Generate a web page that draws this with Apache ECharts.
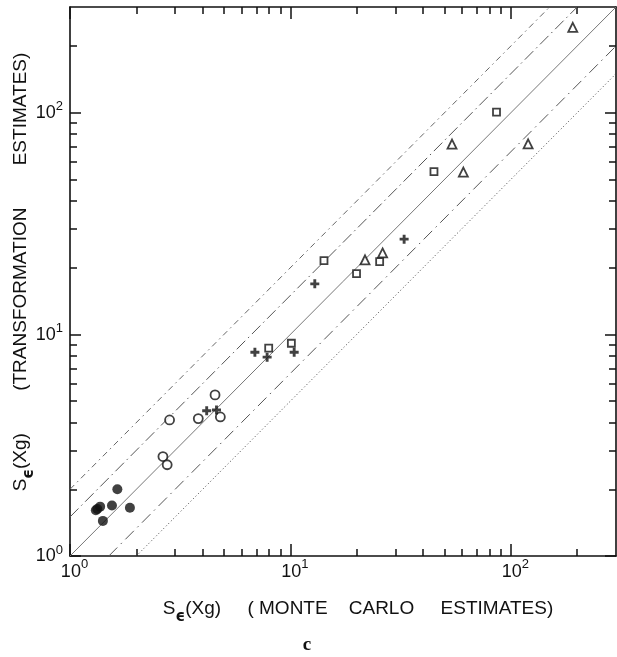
<!DOCTYPE html>
<html>
<head>
<meta charset="utf-8">
<script src="https://cdn.jsdelivr.net/npm/echarts@6/dist/echarts.min.js"></script>
<style>
html,body{margin:0;padding:0;background:#fff;}
#chart{width:617px;height:657px;}
</style>
</head>
<body>
<div id="chart"></div>
<script>
// Axis range and tick values
var axisMin = 1, axisMax = 300;
var majorTicks = [1, 10, 100];
var minorTicks = [2, 3, 4, 5, 6, 7, 8, 9, 20, 30, 40, 50, 60, 70, 80, 90, 200];

// Reference lines y = ratio * x
var lineRatios = [2, 1.5, 1, 1 / 1.5, 0.5];

// Data series [Monte Carlo estimate, transformation estimate]
var filledCircles = [[1.64, 2.0], [1.37, 1.67], [1.33, 1.63], [1.31, 1.61], [1.55, 1.69], [1.87, 1.65], [1.41, 1.44]];
var openCircles = [[2.64, 2.81], [2.76, 2.58], [2.83, 4.11], [3.82, 4.17], [4.55, 5.33], [4.81, 4.24]];
var plusPoints = [[4.17, 4.52], [4.62, 4.56], [6.9, 8.31], [7.84, 7.89], [10.4, 8.31], [12.9, 16.9], [32.8, 26.9]];
var squarePoints = [[7.97, 8.66], [10.1, 9.12], [14.2, 21.5], [19.95, 18.8], [25.4, 21.3], [44.8, 54.2], [86.1, 100.7]];
var trianglePoints = [[21.8, 21.7], [26.2, 23.3], [54.1, 72.2], [60.9, 54.0], [119.8, 72.4], [191, 243]];

var lineStyles = [
  {color: '#666', width: 1, type: [6, 4, 1.5, 4]},
  {color: '#555', width: 1, type: [12, 4, 1.5, 4]},
  {color: '#777', width: 1, type: 'solid'},
  {color: '#555', width: 1, type: [12, 5, 1.5, 5]},
  {color: '#444', width: 1, type: [1, 2.5]}
];

var chart = echarts.init(document.getElementById('chart'), null, {renderer: 'canvas'});

function refLine(r, i) {
  var x0 = Math.max(axisMin, axisMin / r);
  var x1 = Math.min(axisMax, axisMax / r);
  return {
    type: 'line', data: [[x0, x0 * r], [x1, x1 * r]],
    symbol: 'none', silent: true, z: 1,
    lineStyle: lineStyles[i]
  };
}

function mkAxis(pos, ticks, len, showLabel, showLine, isX) {
  var ax = {
    type: 'log', logBase: 10, min: axisMin, max: axisMax, position: pos,
    splitLine: {show: false},
    axisLine: {show: showLine, onZero: false, lineStyle: {color: '#111', width: 1.6}},
    axisTick: {show: true, inside: true, length: len, customValues: ticks, lineStyle: {color: '#111', width: 1.5}},
    axisLabel: {show: false}
  };
  if (showLabel) {
    ax.axisLabel = {
      show: true, customValues: majorTicks,
      formatter: function (v) { return '{b|10}{s|' + Math.round(Math.log10(v)) + '}'; },
      color: '#111', fontFamily: 'Liberation Sans',
      margin: isX ? 2 : 7,
      padding: isX ? [0, 0, 0, 9] : [0, 0, 6, 0],
      rich: {
        b: {fontSize: 18, lineHeight: 19, padding: [isX ? 5 : 4, 0, 0, 0], verticalAlign: 'top', color: '#111', fontFamily: 'Liberation Sans'},
        s: {fontSize: 13, lineHeight: 13, verticalAlign: 'top', color: '#111', fontFamily: 'Liberation Sans'}
      }
    };
  }
  return ax;
}

var sym = {
  plus: 'path://M3.4,0H6.6V3.4H10V6.6H6.6V10H3.4V6.6H0V3.4H3.4Z'
};

var nameRich = {
  m: {fontSize: 19, lineHeight: 21, verticalAlign: 'top', fontFamily: 'Liberation Sans', fill: '#111'},
  e: {fontSize: 15, lineHeight: 13, padding: [10, 0, 0, 0], verticalAlign: 'top', fontFamily: 'DejaVu Sans', fontWeight: 'bold', fill: '#111'}
};

var option = {
  animation: false,
  backgroundColor: '#fff',
  grid: {left: 70, right: 1, top: 7, bottom: 101, containLabel: false},
  xAxis: [
    mkAxis('bottom', majorTicks, 12, true, true, true),
    mkAxis('bottom', minorTicks, 7, false, false, true),
    mkAxis('top', majorTicks, 12, false, true, true),
    mkAxis('top', minorTicks, 7, false, false, true)
  ],
  yAxis: [
    mkAxis('left', majorTicks, 11, true, true, false),
    mkAxis('left', minorTicks, 7, false, false, false),
    mkAxis('right', majorTicks, 11, false, true, false),
    mkAxis('right', minorTicks, 7, false, false, false)
  ],
  series: lineRatios.map(refLine).concat([
    {type: 'scatter', data: filledCircles, symbol: 'circle', symbolSize: 10, z: 5,
     itemStyle: {color: '#111'}},
    {type: 'scatter', data: openCircles, symbol: 'circle', symbolSize: 9, z: 5,
     itemStyle: {color: '#fff', borderColor: '#111', borderWidth: 1.8}},
    {type: 'scatter', data: plusPoints, symbol: sym.plus, symbolSize: 9, z: 5,
     itemStyle: {color: '#111'}},
    {type: 'scatter', data: squarePoints, symbol: 'rect', symbolSize: 7, z: 5,
     itemStyle: {color: '#fff', borderColor: '#111', borderWidth: 1.8}},
    {type: 'scatter', data: trianglePoints, symbol: 'triangle', symbolSize: 9, z: 5,
     itemStyle: {color: '#fff', borderColor: '#111', borderWidth: 1.8}}
  ]),
  graphic: [
    {
      type: 'text', x: 358, y: 610, z: 10,
      style: {
        text: '{m|S}{e|\u03f5}{m|(Xg)     ( MONTE    CARLO     ESTIMATES)}',
        align: 'center', verticalAlign: 'middle', rich: nameRich
      }
    },
    {
      type: 'text', x: 22, y: 272, rotation: Math.PI / 2, z: 10,
      style: {
        text: '{m|S}{e|\u03f5}{m|(Xg)        (TRANSFORMATION        ESTIMATES)}',
        align: 'center', verticalAlign: 'middle', rich: nameRich
      }
    },
    {
      type: 'text', x: 307, y: 645, z: 10,
      style: {text: 'c', align: 'center', verticalAlign: 'middle', fontSize: 19, fontWeight: 'bold', fontFamily: 'Liberation Serif', fill: '#111'}
    }
  ]
};
chart.setOption(option);
</script>
</body>
</html>
